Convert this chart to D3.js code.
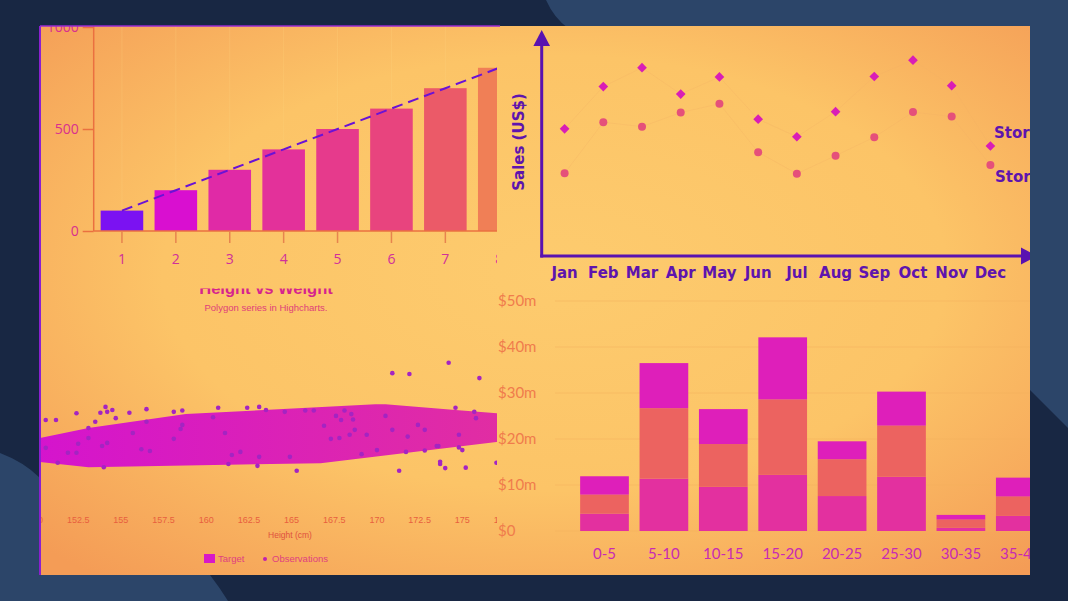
<!DOCTYPE html>
<html><head><meta charset="utf-8">
<script src="https://cdn.jsdelivr.net/npm/d3@7"></script>
<style>html,body{margin:0;padding:0;background:#182743;overflow:hidden}</style>
</head><body>
<svg id="c" width="1068" height="601"></svg>
<script>
// ---------- DATA ----------
const barCats = [1, 2, 3, 4, 5, 6, 7, 8];
const barValues = [100, 200, 300, 400, 500, 600, 700, 800];
const barYTicks = [0, 500, 1000];

const months = ["Jan","Feb","Mar","Apr","May","Jun","Jul","Aug","Sep","Oct","Nov","Dec"];
const storeA = [28.9, 38.5, 42.8, 36.8, 40.7, 31.1, 27.1, 32.8, 40.8, 44.5, 38.7, 25.0];
const storeB = [18.8, 30.4, 29.4, 32.6, 34.6, 23.6, 18.7, 22.8, 27.0, 32.7, 31.7, 20.7];
const storeNames = ["Store A", "Store B"];

const heightTicks = [150, 152.5, 155, 157.5, 160, 162.5, 165, 167.5, 170, 172.5, 175, 177.5];
const targetPolygon = [[149,63.9],[153.1,67.1],[158.8,70.2],[169.9,72.4],[170.5,72.4],[174.6,71.1],[180,69.5],
  [180,65.4],[177,64.0],[166.7,59.3],[153.1,58.4],[149,60.1]];
const observations = [
  [150.6,68.9],[151.2,68.9],[152.4,70.4],[153.5,68.5],[153.8,70.5],[154.1,71.8],[154.2,70.7],[154.5,71.1],
  [154.7,69.3],[155.5,70.5],[156.5,71.3],[156.5,68.5],[158.1,70.7],[158.6,71.0],[160.7,71.6],[162.4,71.6],
  [163.1,71.8],[163.5,71.1],[164.6,70.7],[165.8,71.0],[166.3,71.0],[168.1,71.0],[167.6,69.8],[167.9,68.9],
  [168.5,70.2],[168.6,69.0],[170.5,69.8],[174.6,71.6],[175.7,70.7],[175.8,69.3],[170.9,79.3],[171.9,79.1],
  [174.2,81.6],[176.0,78.2],[153.1,67.1],[153.1,64.9],[152.5,63.6],[152.4,61.6],[151.9,61.6],[150.6,62.7],
  [153.9,63.1],[154.2,63.8],[155.7,66.0],[156.2,62.4],[156.7,62.0],[158.1,64.7],[158.5,66.9],[158.6,67.8],
  [160.4,69.5],[161.1,66.0],[161.5,61.1],[162.0,61.8],[163.1,60.7],[164.9,60.7],[166.9,67.6],[167.3,64.7],
  [167.8,64.9],[168.4,65.6],[168.7,66.7],[169.4,65.6],[169.1,61.3],[170.0,62.2],[170.9,66.7],[171.8,65.2],
  [172.4,67.8],[172.8,66.7],[171.7,61.8],[172.8,62.1],[173.5,63.1],[173.6,63.1],[174.8,65.6],[174.8,62.8],
  [175.0,62.2],[151.3,59.4],[154.0,58.4],[161.3,59.1],[163.0,58.7],[165.3,57.6],[171.3,57.6],[173.7,59.6],
  [173.7,59.1],[174.0,58.2],[175.2,58.3],[177.0,59.4]];

const ageBands = ["0-5","5-10","10-15","15-20","20-25","25-30","30-35","35-40"];
const segLow  = [3.8, 11.4, 9.6, 12.2, 7.6, 11.8, 0.7, 3.3];
const segMid  = [4.1, 15.3, 9.3, 16.4, 8.0, 11.1, 1.8, 4.2];
const segHigh = [4.0,  9.8, 7.6, 13.5, 3.9,  7.4, 1.0, 4.1];
const dollarTicks = [0, 10, 20, 30, 40, 50];

// ---------- STYLE ----------
const barColors = ["#7b12f2","#d90fd0","#e02aa6","#e3319a","#e63a8c","#e8447e","#eb5a68","#f07f56"];
const segColors = {low:"#e3309f", mid:"#ec6360", high:"#de1fba"};

const svg = d3.select("#c");
const defs = svg.append("defs");

// background
svg.append("rect").attr("width",1068).attr("height",601).attr("fill","#182743");
svg.append("path").attr("d","M546,0 Q554,18 568,28 L1030,390 Q1050,410 1068,428 L1068,0 Z").attr("fill","#2c4569");
svg.append("path").attr("d","M0,453 Q24,462 40,478 L210,575 Q220,588 228,601 L0,601 Z").attr("fill","#2c4569");

// panel gradient
const rg = defs.append("radialGradient").attr("id","pg").attr("cx","52%").attr("cy","45%").attr("r","72%");
rg.append("stop").attr("offset","0%").attr("stop-color","#fdcb6e");
rg.append("stop").attr("offset","55%").attr("stop-color","#fcc467");
rg.append("stop").attr("offset","100%").attr("stop-color","#f49c56");
svg.append("rect").attr("x",40).attr("y",26).attr("width",990).attr("height",549).attr("fill","url(#pg)");

function addClip(id,x,y,w,h){
  defs.append("clipPath").attr("id",id).append("rect").attr("x",x).attr("y",y).attr("width",w).attr("height",h);
}
addClip("c1",40,26,457,259);
addClip("c2",497,26,533,257);
addClip("c3",40,288.5,457,287);
addClip("c4",497,283,533,292);

// ---------- Q1: bar chart ----------
const g1 = svg.append("g").attr("clip-path","url(#c1)");
const x1 = d3.scaleBand().domain(barCats).range([95,526.2]).paddingInner(0.21).paddingOuter(0.105);
const y1 = d3.scaleLinear().domain([0,1000]).range([231,27]);
g1.selectAll("line.vg").data(barCats).join("line")
  .attr("x1",d=>x1(d)+x1.bandwidth()/2).attr("x2",d=>x1(d)+x1.bandwidth()/2)
  .attr("y1",26).attr("y2",231).attr("stroke","#ffd680").attr("stroke-opacity",0.25);
g1.selectAll("rect.bar").data(barValues).join("rect")
  .attr("x",(d,i)=>x1(barCats[i])).attr("width",x1.bandwidth())
  .attr("y",d=>y1(d)).attr("height",d=>y1(0)-y1(d))
  .attr("fill",(d,i)=>barColors[i]);
g1.append("line").attr("x1",93.7).attr("x2",497).attr("y1",231).attr("y2",231).attr("stroke","#ea7040").attr("stroke-width",1.5);
const ax1 = g1.append("g").attr("transform","translate(93.7,0)")
  .call(d3.axisLeft(y1).tickValues(barYTicks).tickFormat(d3.format("d")).tickSize(11).tickSizeOuter(0).tickPadding(4));
ax1.select(".domain").remove();
g1.append("line").attr("x1",93.7).attr("x2",93.7).attr("y1",26).attr("y2",231).attr("stroke","#ea7040").attr("stroke-width",1.5);
ax1.selectAll("line").attr("stroke","#ea7040").attr("stroke-width",1.5);
ax1.selectAll("text").attr("font-family","Open Sans").attr("font-size",14).attr("fill","#d8308e");
const bx1 = g1.append("g").attr("transform","translate(0,231)")
  .call(d3.axisBottom(x1).tickSize(12).tickSizeOuter(0).tickPadding(11));
bx1.select(".domain").remove();
bx1.selectAll("line").attr("stroke","#e7844e").attr("stroke-width",1.5);
bx1.selectAll("text").attr("font-family","Open Sans").attr("font-size",14).attr("fill","#d0309a");
g1.append("path").datum(barValues)
  .attr("d",d3.line().x((d,i)=>x1(barCats[i])+x1.bandwidth()/2).y(d=>y1(d)))
  .attr("fill","none").attr("stroke","#6a12d6").attr("stroke-width",2).attr("stroke-dasharray","11,6");

// ---------- Q2: monthly scatter ----------
const g2 = svg.append("g").attr("clip-path","url(#c2)");
const x2 = d3.scalePoint().domain(months).range([564.6,990.4]);
const y2 = d3.scaleLinear().domain([0,50]).range([256,36]);
const ln2 = d3.line().x((d,i)=>x2(months[i])).y(d=>y2(d));
[storeA,storeB].forEach(s=>{
  g2.append("path").datum(s).attr("d",ln2).attr("fill","none").attr("stroke","#f2ae62").attr("stroke-opacity",0.3).attr("stroke-width",1);
});
g2.selectAll("path.dia").data(storeA).join("path")
  .attr("d",d3.symbol().type(d3.symbolDiamond2).size(60))
  .attr("transform",(d,i)=>`translate(${x2(months[i])},${y2(d)})`).attr("fill","#d91db6");
g2.selectAll("circle.cb").data(storeB).join("circle")
  .attr("cx",(d,i)=>x2(months[i])).attr("cy",d=>y2(d)).attr("r",4).attr("fill","#e5507a");
const axc = "#5a12b0";
g2.append("line").attr("x1",541.7).attr("x2",541.7).attr("y1",257.5).attr("y2",44).attr("stroke",axc).attr("stroke-width",3);
g2.append("path").attr("d","M541.7,30 L550,46 L533.4,46 Z").attr("fill",axc);
g2.append("line").attr("x1",540.2).attr("x2",1022).attr("y1",256).attr("y2",256).attr("stroke",axc).attr("stroke-width",3);
g2.append("path").attr("d","M1037,256 L1021,247.5 L1021,264.5 Z").attr("fill",axc);
g2.selectAll("text.m").data(months).join("text")
  .attr("x",d=>x2(d)).attr("y",278).attr("text-anchor","middle")
  .attr("font-family","DejaVu Sans").attr("font-weight","bold").attr("font-size",15).attr("fill","#5e14ae").text(d=>d);
g2.append("text").attr("transform","translate(524,142) rotate(-90)").attr("text-anchor","middle")
  .attr("font-family","DejaVu Sans").attr("font-weight","bold").attr("font-size",15).attr("fill","#5e14ae").text("Sales (US$)");
g2.append("text").attr("x",994).attr("y",138).attr("font-family","DejaVu Sans").attr("font-weight","bold").attr("font-size",15).attr("fill","#5e14ae").text(storeNames[0]);
g2.append("text").attr("x",995).attr("y",182).attr("font-family","DejaVu Sans").attr("font-weight","bold").attr("font-size",15).attr("fill","#5e14ae").text(storeNames[1]);

// ---------- Q3: polygon + scatter ----------
const g3 = svg.append("g").attr("clip-path","url(#c3)");
const x3 = d3.scaleLinear().domain([150,177.5]).range([35.5,505]);
const y3 = d3.scaleLinear().domain([60,70]).range([460,415]);
const lg = defs.append("linearGradient").attr("id","polyg").attr("x1","0%").attr("x2","100%");
lg.append("stop").attr("offset","0%").attr("stop-color","#d413cf");
lg.append("stop").attr("offset","100%").attr("stop-color","#e2309e");
g3.append("text").attr("x",266).attr("y",294).attr("text-anchor","middle")
  .attr("font-family","Liberation Sans").attr("font-weight","bold").attr("font-size",16.5).attr("fill","#d6248e").text("Height vs Weight");
g3.append("text").attr("x",266).attr("y",311).attr("text-anchor","middle")
  .attr("font-family","Liberation Sans").attr("font-size",9.5).attr("fill","#e0407a").text("Polygon series in Highcharts.");
g3.append("path").datum(targetPolygon)
  .attr("d",d3.line().x(d=>x3(d[0])).y(d=>y3(d[1])).curve(d3.curveLinearClosed))
  .attr("fill","url(#polyg)");
g3.selectAll("circle.ob").data(observations).join("circle")
  .attr("cx",d=>x3(d[0])).attr("cy",d=>y3(d[1])).attr("r",2.3).attr("fill","#a424c2");
g3.selectAll("text.ht").data(heightTicks).join("text")
  .attr("x",d=>x3(d)).attr("y",523).attr("text-anchor","middle")
  .attr("font-family","Liberation Sans").attr("font-size",9).attr("fill","#e8603e").text(d=>d);
g3.append("text").attr("x",290).attr("y",538).attr("text-anchor","middle")
  .attr("font-family","Liberation Sans").attr("font-size",8.5).attr("fill","#e0503e").text("Height (cm)");
g3.append("rect").attr("x",204).attr("y",554).attr("width",11).attr("height",9).attr("fill","#d818c8");
g3.append("text").attr("x",218).attr("y",562).attr("font-family","Liberation Sans").attr("font-size",9.5).attr("fill","#e04080").text("Target");
g3.append("circle").attr("cx",265).attr("cy",559).attr("r",2).attr("fill","#c020b0");
g3.append("text").attr("x",272).attr("y",562).attr("font-family","Liberation Sans").attr("font-size",9.5).attr("fill","#e04080").text("Observations");

// ---------- Q4: stacked bars ----------
const g4 = svg.append("g").attr("clip-path","url(#c4)");
const x4 = d3.scaleBand().domain(ageBands).range([574.8,1050]).paddingInner(0.18).paddingOuter(0.09);
const y4 = d3.scaleLinear().domain([0,50]).range([531,301]);
g4.selectAll("line.gr").data(dollarTicks).join("line")
  .attr("x1",555).attr("x2",1030).attr("y1",d=>y4(d)).attr("y2",d=>y4(d))
  .attr("stroke","#f6b25e").attr("stroke-opacity",0.5);
g4.selectAll("text.yt").data(dollarTicks).join("text")
  .attr("x",498).attr("y",d=>y4(d)+5).attr("font-family","Lato").attr("font-size",15).attr("fill","#f07c4c")
  .text(d=>d===0?"$0":`$${d}m`);
const table = ageBands.map((b,i)=>({band:b, low:segLow[i], mid:segMid[i], high:segHigh[i]}));
const stacked = d3.stack().keys(["low","mid","high"])(table);
g4.selectAll("g.layer").data(stacked).join("g").attr("fill",d=>segColors[d.key])
  .selectAll("rect").data(d=>d).join("rect")
  .attr("x",d=>x4(d.data.band)).attr("width",x4.bandwidth())
  .attr("y",d=>y4(d[1])).attr("height",d=>y4(d[0])-y4(d[1]));
g4.selectAll("text.xb").data(ageBands).join("text")
  .attr("x",d=>x4(d)+x4.bandwidth()/2).attr("y",559).attr("text-anchor","middle")
  .attr("font-family","Lato").attr("font-size",15).attr("fill","#c82ab4").text(d=>d);

// panel border
svg.append("line").attr("x1",40).attr("x2",40).attr("y1",26).attr("y2",575).attr("stroke","#8a20d0").attr("stroke-width",2);
svg.append("line").attr("x1",40).attr("x2",500).attr("y1",26).attr("y2",26).attr("stroke","#9a2ad0").attr("stroke-width",1.5);
</script>
</body></html>
